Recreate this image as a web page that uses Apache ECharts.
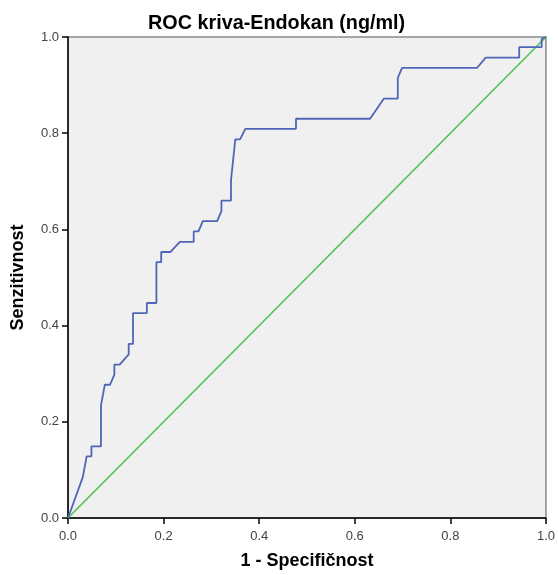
<!DOCTYPE html>
<html>
<head>
<meta charset="utf-8">
<script src="https://cdn.jsdelivr.net/npm/echarts@6/dist/echarts.min.js"></script>
<style>
  html, body { margin: 0; padding: 0; background: #ffffff; }
  #chart { width: 558px; height: 575px; }
</style>
</head>
<body>
<div id="chart"></div>
<script>
// ROC curve points: [1 - specificity, sensitivity]
const rocFpr = [0, 0.031, 0.039, 0.049, 0.049, 0.069, 0.069, 0.077, 0.088, 0.097, 0.097, 0.108,
  0.127, 0.127, 0.136, 0.136, 0.165, 0.165, 0.185, 0.185, 0.195, 0.195, 0.214, 0.234, 0.263,
  0.263, 0.273, 0.282, 0.312, 0.321, 0.321, 0.341, 0.341, 0.350, 0.360, 0.371, 0.477, 0.477,
  0.632, 0.661, 0.690, 0.690, 0.699, 0.856, 0.874, 0.944, 0.944, 0.991, 0.991, 1];
const rocTpr = [0, 0.085, 0.128, 0.128, 0.149, 0.149, 0.234, 0.277, 0.277, 0.298, 0.319, 0.319,
  0.340, 0.362, 0.362, 0.426, 0.426, 0.447, 0.447, 0.532, 0.532, 0.553, 0.553, 0.574, 0.574,
  0.596, 0.596, 0.617, 0.617, 0.638, 0.660, 0.660, 0.702, 0.787, 0.787, 0.809, 0.809, 0.830,
  0.830, 0.872, 0.872, 0.915, 0.936, 0.936, 0.957, 0.957, 0.979, 0.979, 0.996, 1];
// Reference diagonal
const diagX = [0, 1];
const diagY = [0, 1];
const tickLabels = ['0.0', '0.2', '0.4', '0.6', '0.8', '1.0'];

const rocData = rocFpr.map((x, i) => [x, rocTpr[i]]);
const diagData = diagX.map((x, i) => [x, diagY[i]]);

const font = '"Liberation Sans", Arial, sans-serif';
const fmt = v => tickLabels[Math.round(v * 5)] ?? v.toFixed(1);

const chart = echarts.init(document.getElementById('chart'), null, { renderer: 'canvas' });
chart.setOption({
  animation: false,
  backgroundColor: '#ffffff',
  title: {
    text: 'ROC kriva-Endokan (ng/ml)',
    left: 143,
    top: 9,
    textStyle: { fontFamily: font, fontSize: 19.8, fontWeight: 'bold', color: '#000' }
  },
  grid: {
    left: 68, right: 11, top: 37, bottom: 56,
    show: true,
    backgroundColor: '#f0f0f0',
    borderColor: '#8a8a8a',
    borderWidth: 1.5
  },
  xAxis: {
    type: 'value', min: 0, max: 1, interval: 0.2,
    name: '1 - Specifičnost',
    nameLocation: 'middle',
    nameGap: 34,
    nameTextStyle: { fontFamily: font, fontSize: 18, fontWeight: 'bold', color: '#000' },
    axisLine: { show: true, onZero: false, lineStyle: { color: '#000', width: 1.5 } },
    axisTick: { show: true, inside: false, length: 6, lineStyle: { color: '#000', width: 1.5 } },
    axisLabel: { formatter: fmt, fontFamily: font, fontSize: 13, color: '#444', margin: 12 },
    splitLine: { show: false }
  },
  yAxis: {
    type: 'value', min: 0, max: 1, interval: 0.2,
    name: 'Senzitivnost',
    nameLocation: 'middle',
    nameGap: 41,
    nameRotate: 90,
    nameTextStyle: { fontFamily: font, fontSize: 18, fontWeight: 'bold', color: '#000' },
    axisLine: { show: true, onZero: false, lineStyle: { color: '#000', width: 1.5 } },
    axisTick: { show: true, inside: false, length: 6, lineStyle: { color: '#000', width: 1.5 } },
    axisLabel: { formatter: fmt, fontFamily: font, fontSize: 13, color: '#444', margin: 9, padding: [3, 0, 0, 0] },
    splitLine: { show: false }
  },
  series: [
    {
      type: 'line',
      data: diagData,
      symbol: 'none',
      lineStyle: { color: '#52c452', width: 1.7 },
      z: 2
    },
    {
      type: 'line',
      data: rocData,
      symbol: 'none',
      lineStyle: { color: '#4f66b8', width: 1.8 },
      z: 3
    }
  ]
});
</script>
</body>
</html>
